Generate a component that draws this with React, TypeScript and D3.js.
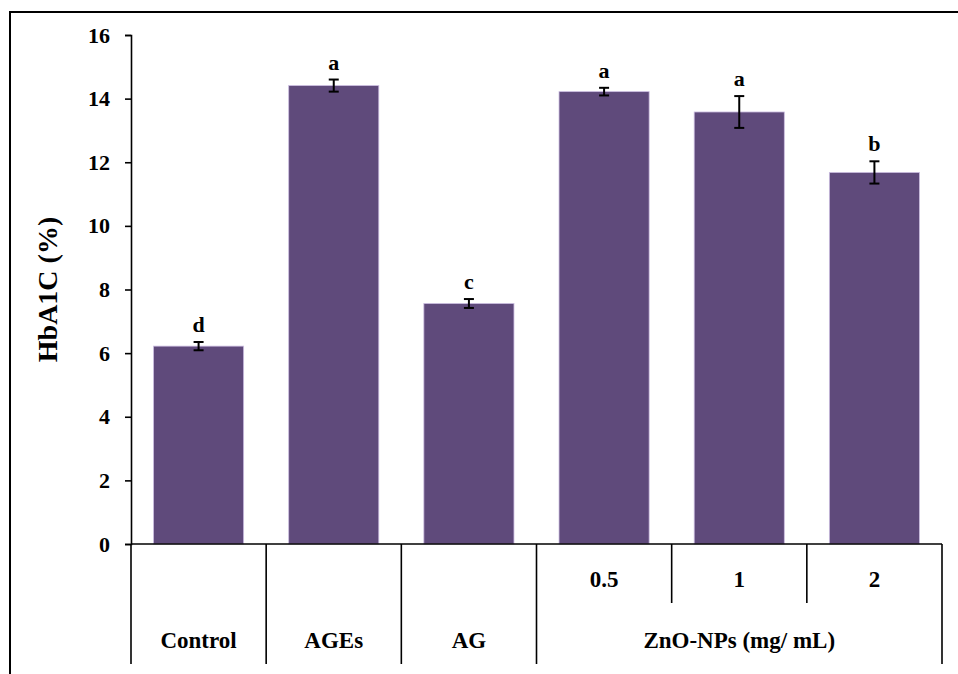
import React, { useEffect, useRef } from 'react';
import * as d3 from 'd3';

const categories = ['Control', 'AGEs', 'AG', '0.5', '1', '2'];
const means = [6.22, 14.41, 7.56, 14.22, 13.58, 11.68];
const errors = [0.13, 0.19, 0.14, 0.12, 0.5, 0.35];
const letters = ['d', 'a', 'c', 'a', 'a', 'b'];
// bottom table: the dose labels sit in the upper row, group names in the lower row
const subLabels = ['', '', '', '0.5', '1', '2'];
const groupNames = ['Control', 'AGEs', 'AG', 'ZnO-NPs (mg/ mL)'];
const groupSpans = [1, 1, 1, 3];
const yTicks = [0, 2, 4, 6, 8, 10, 12, 14, 16];

const FONT = "'Liberation Serif', 'DejaVu Serif', serif";

const App: React.FC = () => {
  const svgRef = useRef<SVGSVGElement>(null);

  useEffect(() => {
    const svg = d3.select(svgRef.current);
    if (!svgRef.current) return;
    svg.selectAll('*').remove();

    const left = 131;
    const right = 942;
    const top = 35;
    const bottom = 544;
    const tableBottom = 664;
    const subRowBottom = 603;

    const x = d3.scaleBand<string>().domain(categories).range([left, right]).paddingInner(1 / 3).paddingOuter(1 / 6);
    const y = d3.scaleLinear().domain([0, 16]).range([bottom, top]);
    const step = x.step();

    // outer frame (top and left only, the rest is cropped)
    svg.append('path')
      .attr('d', `M10,674 L10,12 L958,12`)
      .attr('fill', 'none')
      .attr('stroke', '#000')
      .attr('stroke-width', 2);

    // bars
    svg.selectAll('rect.bar')
      .data(means)
      .join('rect')
      .attr('class', 'bar')
      .attr('x', (_, i) => x(categories[i])!)
      .attr('width', x.bandwidth())
      .attr('y', d => y(d))
      .attr('height', d => bottom - y(d))
      .attr('fill', '#5f4a7b')
      .attr('stroke', '#cbbde0')
      .attr('stroke-width', 0.8);

    // error bars
    means.forEach((m, i) => {
      const cx = x(categories[i])! + x.bandwidth() / 2;
      const y1 = y(m + errors[i]);
      const y2 = y(m - errors[i]);
      const g = svg.append('g').attr('stroke', '#000').attr('stroke-width', 2);
      g.append('line').attr('x1', cx).attr('x2', cx).attr('y1', y1).attr('y2', y2);
      g.append('line').attr('x1', cx - 5).attr('x2', cx + 5).attr('y1', y1).attr('y2', y1);
      g.append('line').attr('x1', cx - 5).attr('x2', cx + 5).attr('y1', y2).attr('y2', y2);

      svg.append('text')
        .attr('x', cx)
        .attr('y', y1 - 10)
        .attr('text-anchor', 'middle')
        .style('font-family', FONT)
        .style('font-weight', 'bold')
        .style('font-size', '22px')
        .text(letters[i]);
    });

    // y axis
    const axis = svg.append('g').attr('transform', `translate(${left},0)`)
      .call(d3.axisLeft(y).tickValues(yTicks).tickSize(6).tickPadding(15).tickFormat(d3.format('d')));
    axis.attr('font-family', null).attr('font-size', null);
    axis.select('.domain').attr('stroke', '#000').attr('stroke-width', 1.6);
    axis.selectAll('.tick line').attr('stroke', '#000').attr('stroke-width', 1.6);
    axis.selectAll('.tick text')
      .style('font-family', FONT)
      .style('font-weight', 'bold')
      .style('font-size', '22px')
      .attr('fill', '#000');

    svg.append('text')
      .attr('transform', `translate(57,${(top + bottom) / 2}) rotate(-90)`)
      .attr('text-anchor', 'middle')
      .style('font-family', FONT)
      .style('font-weight', 'bold')
      .style('font-size', '28px')
      .text('HbA1C (%)');

    // table under the bars
    const lines = svg.append('g').attr('stroke', '#000').attr('stroke-width', 1.6);
    lines.append('line').attr('x1', left).attr('x2', right).attr('y1', bottom).attr('y2', bottom);

    let idx = 0;
    const boundaries: number[] = [0];
    groupSpans.forEach(s => { idx += s; boundaries.push(idx); });
    boundaries.forEach(b => {
      const bx = left + b * step;
      lines.append('line').attr('x1', bx).attr('x2', bx).attr('y1', bottom).attr('y2', tableBottom);
    });
    // inner dividers inside the multi-column group
    subLabels.forEach((s, i) => {
      if (i === 0 || !s || !subLabels[i - 1]) return;
      const bx = left + i * step;
      lines.append('line').attr('x1', bx).attr('x2', bx).attr('y1', bottom).attr('y2', subRowBottom);
    });

    subLabels.forEach((s, i) => {
      if (!s) return;
      svg.append('text')
        .attr('x', x(categories[i])! + x.bandwidth() / 2)
        .attr('y', 587)
        .attr('text-anchor', 'middle')
        .style('font-family', FONT)
        .style('font-weight', 'bold')
        .style('font-size', '23px')
        .text(s);
    });

    groupNames.forEach((g, i) => {
      const cx = left + ((boundaries[i] + boundaries[i + 1]) / 2) * step;
      svg.append('text')
        .attr('x', cx)
        .attr('y', 648)
        .attr('text-anchor', 'middle')
        .style('font-family', FONT)
        .style('font-weight', 'bold')
        .style('font-size', '23px')
        .text(g);
    });
  }, []);

  return (
    <svg
      ref={svgRef}
      width={958}
      height={674}
      style={{ position: 'absolute', left: 0, top: 0, display: 'block', background: '#fff' }}
    />
  );
};

export default App;
